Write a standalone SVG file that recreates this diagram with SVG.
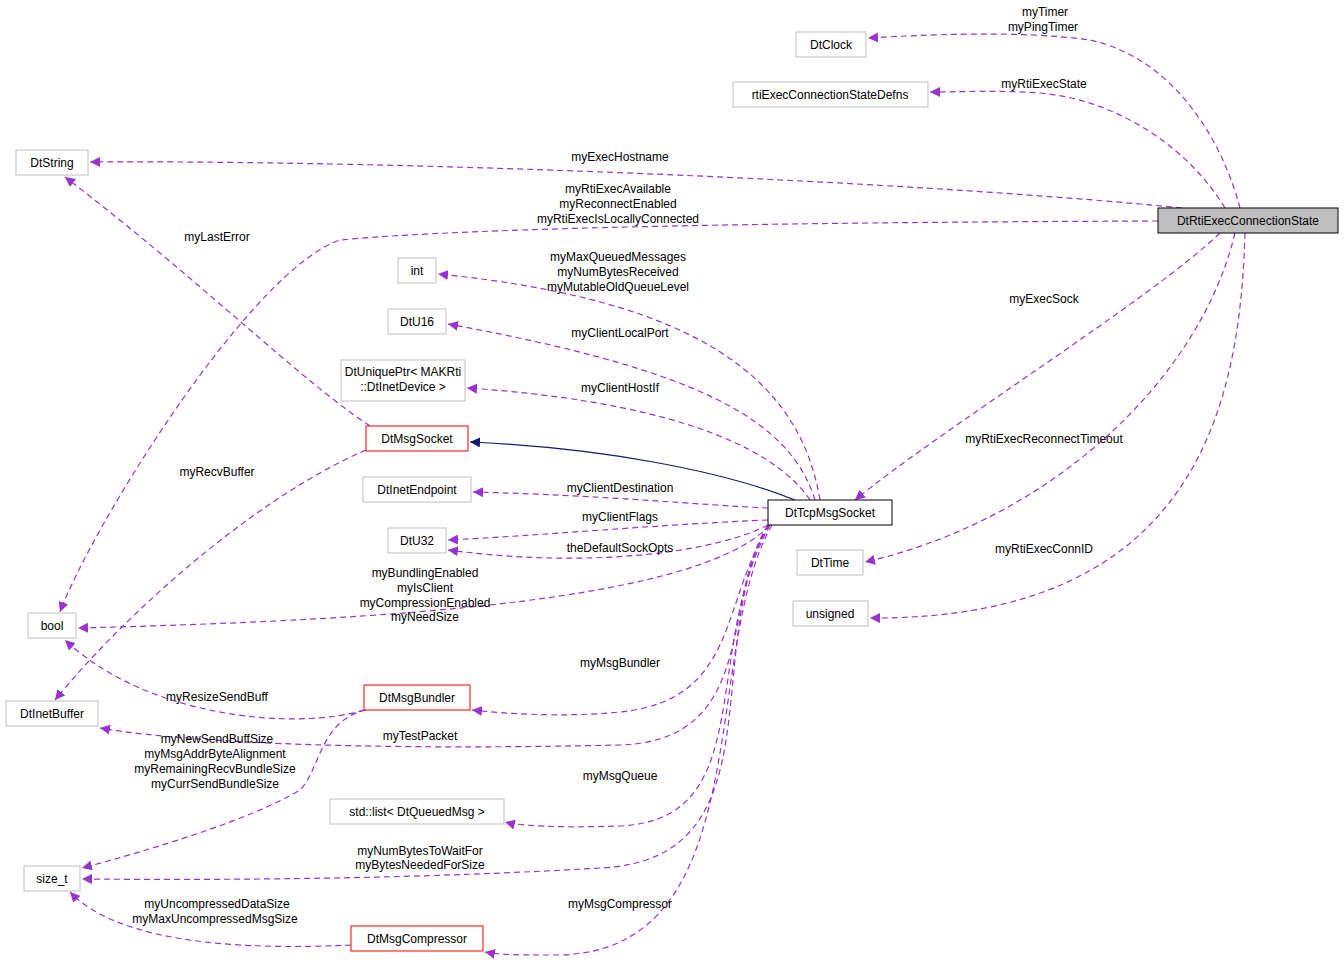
<svg xmlns="http://www.w3.org/2000/svg" width="1344" height="968" viewBox="0 0 1344 968">
<style>
.n rect{fill:#fff;stroke:#bfbfbf;stroke-width:1}
.n.r rect{stroke:#ff0000}
.n.k rect{stroke:#000}
.n.g rect{fill:#bfbfbf;stroke:#000}
text{font-family:"Liberation Sans",Arial,sans-serif;font-size:12px;fill:#000;text-anchor:middle}
.e{fill:none;stroke:#9a32cd;stroke-dasharray:6,4;stroke-width:1.2;marker-end:url(#a)}
.s{fill:none;stroke:#191970;stroke-width:1.2;marker-end:url(#b)}
</style>
<defs>
<marker id="a" viewBox="0 0 10 10" refX="10" refY="5" markerWidth="10" markerHeight="10" markerUnits="userSpaceOnUse" orient="auto"><path d="M0,0L10,5L0,10z" fill="#9a32cd"/></marker>
<marker id="b" viewBox="0 0 10 10" refX="10" refY="5" markerWidth="10" markerHeight="10" markerUnits="userSpaceOnUse" orient="auto"><path d="M0,0L10,5L0,10z" fill="#191970"/></marker>
</defs>
<rect width="1344" height="968" fill="#fff"/>
<g id="connectors">
<path class="e" d="M1240,208 C1225,150 1180,60 1090,40 C1020,30 920,35 868,38"/>
<path class="e" d="M1225,208 C1190,150 1120,100 1040,93 C1000,90 960,92 930,92"/>
<path class="e" d="M1182,208 C900,180 400,160 90,162"/>
<path class="e" d="M1158,221 C900,222 500,225 340,240 C250,270 90,530 60,612"/>
<path class="e" d="M1220,233 C1150,300 940,430 855,500"/>
<path class="e" d="M1235,233 C1200,380 1050,520 865,562"/>
<path class="e" d="M1245,233 C1240,400 1200,620 870,618"/>
<path class="e" d="M820,500 C800,380 700,300 438,274"/>
<path class="e" d="M815,500 C790,420 700,370 448,324"/>
<path class="e" d="M810,500 C770,440 650,400 467,388"/>
<path class="s" d="M795,500 C720,470 600,448 470,442"/>
<path class="e" d="M768,508 C700,505 600,495 473,492"/>
<path class="e" d="M768,520 C650,525 550,535 448,540"/>
<path class="e" d="M768,525 C720,550 600,570 448,550"/>
<path class="e" d="M770,525 C700,600 400,620 78,628"/>
<path class="e" d="M770,525 C720,600 740,700 620,712 C560,718 500,713 472,710"/>
<path class="e" d="M768,525 C720,600 760,740 620,745 C400,750 200,745 100,728"/>
<path class="e" d="M770,525 C700,650 760,820 620,826 C560,828 520,826 505,822"/>
<path class="e" d="M768,525 C700,650 780,860 600,868 C400,880 200,880 82,879"/>
<path class="e" d="M772,525 C700,650 760,950 560,955 C520,955 500,955 485,952"/>
<path class="e" d="M370,426 C300,380 200,280 65,177"/>
<path class="e" d="M366,450 C250,500 120,620 55,700"/>
<path class="e" d="M364,710 C300,730 150,720 65,640"/>
<path class="e" d="M366,710 C320,720 320,770 300,790 C250,820 150,850 82,868"/>
<path class="e" d="M351,945 C250,950 120,945 70,892"/>
<text x="1045" y="16">myTimer</text><text x="1043" y="31">myPingTimer</text>
<text x="1044" y="88">myRtiExecState</text>
<text x="620" y="161">myExecHostname</text>
<text x="618" y="193">myRtiExecAvailable</text><text x="618" y="208">myReconnectEnabled</text><text x="618" y="223">myRtiExecIsLocallyConnected</text>
<text x="1044" y="303">myExecSock</text>
<text x="1044" y="443">myRtiExecReconnectTimeout</text>
<text x="1044" y="553">myRtiExecConnID</text>
<text x="618" y="261">myMaxQueuedMessages</text><text x="618" y="276">myNumBytesReceived</text><text x="618" y="291">myMutableOldQueueLevel</text>
<text x="620" y="337">myClientLocalPort</text>
<text x="620" y="392">myClientHostIf</text>
<text x="620" y="492">myClientDestination</text>
<text x="620" y="521">myClientFlags</text>
<text x="620" y="552">theDefaultSockOpts</text>
<text x="425" y="577">myBundlingEnabled</text><text x="425" y="592">myIsClient</text><text x="425" y="607">myCompressionEnabled</text><text x="425" y="621">myNeedSize</text>
<text x="620" y="667">myMsgBundler</text>
<text x="420" y="740">myTestPacket</text>
<text x="620" y="780">myMsgQueue</text>
<text x="420" y="855">myNumBytesToWaitFor</text><text x="420" y="869">myBytesNeededForSize</text>
<text x="620" y="908">myMsgCompressor</text>
<text x="217" y="241">myLastError</text>
<text x="217" y="476">myRecvBuffer</text>
<text x="217" y="701">myResizeSendBuff</text>
<text x="217" y="743">myNewSendBuffSize</text><text x="215" y="758">myMsgAddrByteAlignment</text><text x="215" y="773">myRemainingRecvBundleSize</text><text x="215" y="788">myCurrSendBundleSize</text>
<text x="217" y="908">myUncompressedDataSize</text><text x="215" y="923">myMaxUncompressedMsgSize</text>
</g>
<g id="DtClock" class="n"><rect x="796" y="32" width="70" height="25"/><text x="831" y="49">DtClock</text></g>
<g id="rtiExecConnectionStateDefns" class="n"><rect x="733" y="82" width="195" height="25"/><text x="830" y="99">rtiExecConnectionStateDefns</text></g>
<g id="DtString" class="n"><rect x="16" y="150" width="72" height="25"/><text x="52" y="167">DtString</text></g>
<g id="DtRtiExecConnectionState" class="n g"><rect x="1158" y="208" width="180" height="25"/><text x="1248" y="225">DtRtiExecConnectionState</text></g>
<g id="int" class="n"><rect x="398" y="258" width="38" height="25"/><text x="417" y="275">int</text></g>
<g id="DtU16" class="n"><rect x="388" y="309" width="58" height="25"/><text x="417" y="326">DtU16</text></g>
<g id="DtUniquePtr" class="n"><rect x="341" y="360" width="124" height="41"/><text x="403" y="376">DtUniquePtr&lt; MAKRti</text><text x="403" y="391">::DtInetDevice &gt;</text></g>
<g id="DtMsgSocket" class="n r"><rect x="366" y="426" width="102" height="25"/><text x="417" y="443">DtMsgSocket</text></g>
<g id="DtInetEndpoint" class="n"><rect x="363" y="477" width="108" height="25"/><text x="417" y="494">DtInetEndpoint</text></g>
<g id="DtTcpMsgSocket" class="n k"><rect x="768" y="500" width="124" height="25"/><text x="830" y="517">DtTcpMsgSocket</text></g>
<g id="DtU32" class="n"><rect x="388" y="528" width="58" height="25"/><text x="417" y="545">DtU32</text></g>
<g id="DtTime" class="n"><rect x="797" y="550" width="66" height="25"/><text x="830" y="567">DtTime</text></g>
<g id="bool" class="n"><rect x="28" y="613" width="48" height="25"/><text x="52" y="630">bool</text></g>
<g id="unsigned" class="n"><rect x="793" y="601" width="75" height="25"/><text x="830" y="618">unsigned</text></g>
<g id="DtMsgBundler" class="n r"><rect x="364" y="685" width="106" height="25"/><text x="417" y="702">DtMsgBundler</text></g>
<g id="DtInetBuffer" class="n"><rect x="6" y="701" width="92" height="25"/><text x="52" y="718">DtInetBuffer</text></g>
<g id="stdlist" class="n"><rect x="330" y="799" width="174" height="25"/><text x="417" y="816">std::list&lt; DtQueuedMsg &gt;</text></g>
<g id="size_t" class="n"><rect x="24" y="866" width="56" height="25"/><text x="52" y="883">size_t</text></g>
<g id="DtMsgCompressor" class="n r"><rect x="351" y="926" width="132" height="25"/><text x="417" y="943">DtMsgCompressor</text></g>
</svg>
